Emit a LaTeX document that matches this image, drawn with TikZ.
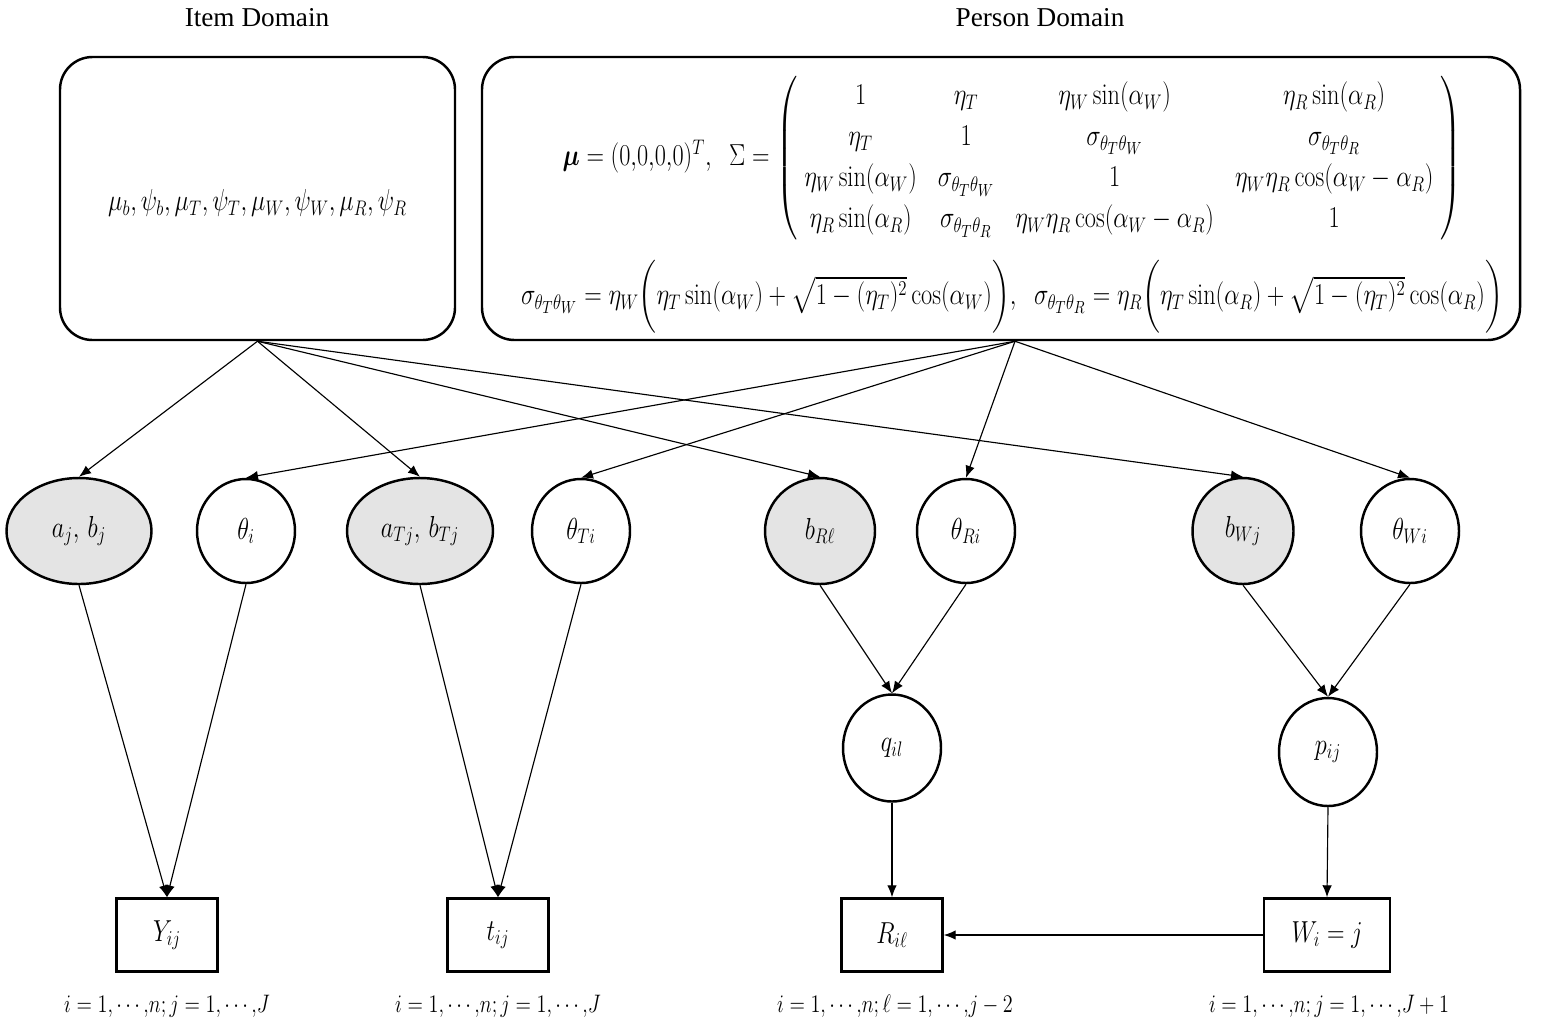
\documentclass[tikz,border=0pt]{standalone}
\usepackage{amsmath, amssymb, graphicx}
\usepackage{fontspec}
\newfontfamily\titlefont{Liberation Serif}
\usetikzlibrary{arrows.meta, positioning, shapes.geometric}
\definecolor{paramgray}{RGB}{228,228,228}
\newsavebox{\mathbx}
\tikzset{
  condensed/.style = {font=\fontsize{17.28}{20}\selectfont,
                   execute at begin node={\begin{lrbox}{\mathbx}},
                   execute at end node={\end{lrbox}\scalebox{0.8}[1]{\usebox{\mathbx}}}},
  idx/.style    = {condensed, font=\fontsize{14.4}{17}\selectfont},
  domainbox/.style = {draw, line width=1.4pt, rounded corners=6.5mm,
                   minimum height=56.6mm, inner sep=0pt},
  dtitle/.style = {font=\titlefont\fontsize{15.5}{18}\selectfont},
  param/.style  = {ellipse, draw, line width=1.4pt, fill=paramgray,
                   minimum height=21.2mm, inner sep=0pt},
  latent/.style = {ellipse, draw, line width=1.4pt, fill=white,
                   minimum width=19.6mm, minimum height=20.8mm, inner sep=0pt},
  obs/.style    = {rectangle, draw, line width=1.4pt, minimum width=20.2mm,
                   minimum height=14.6mm, inner sep=0pt},
  arrow/.style  = {-{Latex[length=2.4mm, width=1.9mm]}, line width=0.65pt},
}

\begin{document}
\begin{tikzpicture}[x=0.2mm, y=-0.2mm]
  \useasboundingbox (0,0) rectangle (1552,1024);

  % domains
  \node[dtitle] (itemtitle) at (257,18) {Item Domain};
  \node[dtitle] (persontitle) at (1040,18) {Person Domain};
  \node[domainbox, minimum width=79mm] (item) at (257.5,198.5) {};
  \node[condensed] (hyper) at (257.5,203)
    {$\mu_b, \psi_b, \mu_T, \psi_T, \mu_W, \psi_W, \mu_R, \psi_R$};
  \node[domainbox, minimum width=207.6mm] (person) at (1001,198.5) {};
  \node[condensed] (moments) at (1012,158) {\setlength{\arraycolsep}{7.5pt}%
    \renewcommand{\arraystretch}{1.17}%
    $\boldsymbol{\mu} = (0{,}0{,}0{,}0)^T,\;\; \Sigma = \left(\;\begin{matrix}
      1 & \eta_T & \eta_W\sin(\alpha_W) & \eta_R\sin(\alpha_R)\\
      \eta_T & 1 & \sigma_{\theta_T\theta_W} & \sigma_{\theta_T\theta_R}\\
      \eta_W\sin(\alpha_W) & \sigma_{\theta_T\theta_W} & 1 & \eta_W\eta_R\cos(\alpha_W-\alpha_R)\\
      \eta_R\sin(\alpha_R) & \sigma_{\theta_T\theta_R} & \eta_W\eta_R\cos(\alpha_W-\alpha_R) & 1
    \end{matrix}\;\right)$};
  \node[condensed] (sigmas) at (1012,297)
    {$\sigma_{\theta_T\theta_W} = \eta_W\biggl(\eta_T\sin(\alpha_W) + \sqrt{1-(\eta_T)^2}\cos(\alpha_W)\biggr),\;\;
      \sigma_{\theta_T\theta_R} = \eta_R\biggl(\eta_T\sin(\alpha_R) + \sqrt{1-(\eta_T)^2}\cos(\alpha_R)\biggr)$};
  \coordinate (pout) at ([xshift=2.8mm]person.south);

  % item parameters
  \foreach \nm/\x/\w/\lbl in {aj/79/29/{$a_j,\, b_j$}, aT/420/29.2/{$a_{Tj},\, b_{Tj}$},
                               bR/820/22/{$b_{R\ell}$}, bW/1243/20.2/{$b_{Wj}$}} {
    \node[param, minimum width=\w mm] (\nm) at (\x,531) {};
    \node[condensed] at (\nm) {\lbl};
  }

  % person abilities
  \foreach \nm/\x/\lbl in {thi/246/$\theta_i$, thT/581/$\theta_{Ti}$,
                            thR/966/$\theta_{Ri}$, thW/1410/$\theta_{Wi}$} {
    \node[latent] (\nm) at (\x,531) {};
    \node[condensed] at (\nm) {\lbl};
  }

  % probabilities
  \node[latent, minimum height=21.4mm] (q) at (892,748) {};
  \node[condensed] (qlbl) at (q) {$q_{il}$};
  \node[latent, minimum height=21.6mm] (p) at (1328,752) {};
  \node[condensed] (plbl) at (p) {$p_{ij}$};

  % observed data
  \node[obs] (Y) at (167,935) {};
  \node[condensed] (Ylbl) at (Y) {$Y_{ij}$};
  \node[obs] (t) at (498,935) {};
  \node[condensed] (tlbl) at (t) {$t_{ij}$};
  \node[obs] (R) at (892,935) {};
  \node[condensed] (Rlbl) at (R) {$R_{i\ell}$};
  \node[obs, minimum width=25.2mm] (W) at (1327,935) {};
  \node[condensed] (Wlbl) at (W) {$W_i = j$};

  % index ranges
  \node[idx] (Yidx) at (167,1006) {$i = 1{,}\cdots{,}n; j = 1{,}\cdots{,}J$};
  \node[idx] (tidx) at (498,1006) {$i = 1{,}\cdots{,}n; j = 1{,}\cdots{,}J$};
  \node[idx] (Ridx) at (895,1006) {$i = 1{,}\cdots{,}n; \ell = 1{,}\cdots{,}j-2$};
  \node[idx] (Widx) at (1329,1006) {$i = 1{,}\cdots{,}n; j = 1{,}\cdots{,}J+1$};

  % edges
  \foreach \t in {aj, aT, bR, bW}
    \draw[arrow] (item.south) -- (\t.north);
  \foreach \t in {thi, thT, thR, thW}
    \draw[arrow] (pout) -- (\t.north);
  \draw[arrow] (aj.south) -- (Y.north);
  \draw[arrow] (thi.south) -- (Y.north);
  \draw[arrow] (aT.south) -- (t.north);
  \draw[arrow] (thT.south) -- (t.north);
  \draw[arrow] (bR.south) -- (q.north);
  \draw[arrow] (thR.south) -- (q.north);
  \draw[arrow] (bW.south) -- (p.north);
  \draw[arrow] (thW.south) -- (p.north);
  \draw[arrow] (q.south) -- (R.north);
  \draw[arrow] (p.south) -- (W.north);
  \draw[arrow] (W.west) -- (R.east);
\end{tikzpicture}
\end{document}
